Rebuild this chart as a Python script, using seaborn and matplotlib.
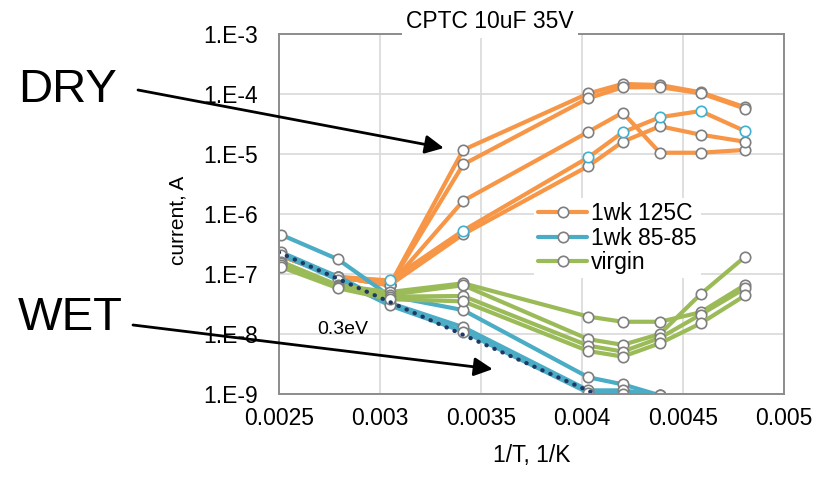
import matplotlib
matplotlib.use('Agg')
import matplotlib.pyplot as plt
import numpy as np
import pandas as pd
import seaborn as sns
from matplotlib.lines import Line2D
from matplotlib.ticker import LogLocator, NullFormatter

# 1/T values of the measurement temperatures
inv_t = [0.002513, 0.002793, 0.003049, 0.003413, 0.004032, 0.004202, 0.004386, 0.004587, 0.004808]

# 1wk 125C (orange) - five parts
dry_a = [2.0e-7, 9.0e-8, 6.5e-8, 1.17e-5, 1.02e-4, 1.47e-4, 1.41e-4, 1.07e-4, 6.0e-5]
dry_b = [2.0e-7, 9.0e-8, 6.5e-8, 6.7e-6, 8.5e-5, 1.29e-4, 1.30e-4, 1.03e-4, 5.7e-5]
dry_c = [2.0e-7, 9.0e-8, 6.5e-8, 1.66e-6, 2.35e-5, 4.9e-5, 1.05e-5, 1.05e-5, 1.17e-5]
dry_d = [2.0e-7, 9.0e-8, 7.8e-8, 5.3e-7, 8.8e-6, 2.3e-5, 4.1e-5, 5.2e-5, 2.4e-5]
dry_e = [2.0e-7, 9.0e-8, 6.5e-8, 4.6e-7, 6.3e-6, 1.6e-5, 2.9e-5, 2.1e-5, 1.6e-5]

# 1wk 85-85 (blue) - first seven temperatures
wet_a = [4.5e-7, 1.76e-7, 4.3e-8, 2.5e-8, 1.9e-9, 1.45e-9, 9.5e-10]
wet_b = [2.3e-7, 9.0e-8, 3.3e-8, 1.3e-8, 1.15e-9, 1.15e-9, 9.5e-10]
wet_c = [2.1e-7, 8.0e-8, 3.0e-8, 1.1e-8, 1.05e-9, 1.0e-9, 9.5e-10]

# virgin (green)
virgin_a = [1.6e-7, 6.5e-8, 5.0e-8, 7.0e-8, 1.95e-8, 1.6e-8, 1.6e-8, 2.3e-8, 6.6e-8]
virgin_b = [1.5e-7, 6.3e-8, 4.5e-8, 6.5e-8, 8.2e-9, 6.6e-9, 1.0e-8, 4.6e-8, 1.95e-7]
virgin_c = [1.4e-7, 6.0e-8, 4.2e-8, 4.3e-8, 6.4e-9, 5.1e-9, 8.6e-9, 2.1e-8, 5.8e-8]
virgin_d = [1.3e-7, 5.8e-8, 3.8e-8, 3.5e-8, 5.2e-9, 4.2e-9, 7.0e-9, 1.5e-8, 4.4e-8]

# 0.3 eV activation fit line
fit_x = [0.0025, 0.00415]
fit_y = [2.3e-7, 7.5e-10]

y_ticks = [1e-9, 1e-8, 1e-7, 1e-6, 1e-5, 1e-4, 1e-3]
y_labels = ['1.E-9', '1.E-8', '1.E-7', '1.E-6', '1.E-5', '1.E-4', '1.E-3']
x_ticks = [0.0025, 0.003, 0.0035, 0.004, 0.0045, 0.005]
x_labels = ['0.0025', '0.003', '0.0035', '0.004', '0.0045', '0.005']

ORANGE = '#F79646'
BLUE = '#4BACC6'
GREEN = '#9BBB59'
CYAN_EDGE = '#3FB0D0'
EDGE = '#7F7F7F'

sns.set_style('white')
plt.rcParams['font.family'] = ['Liberation Sans', 'DejaVu Sans']
plt.rcParams['text.color'] = 'black'
plt.rcParams['xtick.color'] = 'black'
plt.rcParams['ytick.color'] = 'black'

fig = plt.figure(figsize=(8.27, 4.94), dpi=100)
ax = fig.add_axes([0.337, 0.2024, 0.611, 0.7288])
ax.set_yscale('log')

line_kw = dict(lw=3.0, marker='o', markersize=7.5, markerfacecolor='white',
               markeredgewidth=1.2, estimator=None, sort=False, ax=ax)

for ys in [dry_a, dry_b, dry_c, dry_e]:
    sns.lineplot(x=inv_t, y=ys, color=ORANGE, markeredgecolor=EDGE, **line_kw)
sns.lineplot(x=inv_t, y=dry_d, color=ORANGE, markeredgecolor=CYAN_EDGE, **line_kw)

for ys in [wet_a, wet_b, wet_c]:
    sns.lineplot(x=inv_t[:len(ys)], y=ys, color=BLUE, markeredgecolor=EDGE, **line_kw)

for ys in [virgin_a, virgin_b, virgin_c, virgin_d]:
    sns.lineplot(x=inv_t, y=ys, color=GREEN, markeredgecolor=EDGE, **line_kw)

sns.lineplot(x=fit_x, y=fit_y, color='#1F3864', lw=3, linestyle=(0, (0.1, 2.0)),
             dash_capstyle='round', estimator=None, sort=False, ax=ax)

ax.set_xlim(0.0025, 0.005)
ax.set_ylim(1e-9, 1e-3)
ax.set_xticks(x_ticks)
ax.set_xticklabels(x_labels, fontsize=16.5)
ax.set_yticks(y_ticks)
ax.set_yticklabels(y_labels, fontsize=16.5)
ax.yaxis.set_minor_locator(LogLocator(base=10, subs=np.arange(2, 10), numticks=20))
ax.yaxis.set_minor_formatter(NullFormatter())
ax.tick_params(axis='x', length=0, pad=9)
ax.tick_params(axis='y', which='major', direction='in', length=6, color='#8C8C8C', pad=15)
ax.tick_params(axis='y', which='minor', direction='in', length=5, color='#8C8C8C')
ax.grid(True, which='major', color='#D9D9D9', lw=1.2)
ax.set_axisbelow(True)
for s in ax.spines.values():
    s.set_color('#8C8C8C')
    s.set_linewidth(1.4)
ax.set_xlabel('')
ax.set_ylabel('')

fig.text(532 / 827, 1 - 455 / 494, '1/T, 1/K', fontsize=16.5, ha='center', va='center')
fig.text(178 / 827, 1 - 220 / 494, 'current, A', fontsize=15, rotation=90,
         ha='center', va='center')
fig.text(490 / 827, 1 - 22 / 494, 'CPTC 10uF 35V', fontsize=16.5, ha='center', va='center',
         bbox=dict(facecolor='white', edgecolor='none', pad=3))

handles = [Line2D([], [], color=c, lw=3.0, marker='o', markersize=7.5,
                  markerfacecolor='white', markeredgecolor=EDGE, markeredgewidth=1.2)
           for c in [ORANGE, BLUE, GREEN]]
leg = ax.legend(handles, ['1wk 125C', '1wk 85-85', 'virgin'], loc='upper left',
                bbox_to_anchor=(0.505, 0.545), fontsize=16.5, frameon=True,
                facecolor='white', edgecolor='none', framealpha=1, borderpad=0.2,
                borderaxespad=0, handlelength=2.1, handletextpad=0.2, labelspacing=0.05)
leg.set_zorder(10)

ax.text(0.002817, 10 ** (-3 - (329 - 34) / 60), '0.3eV', fontsize=14, ha='center', va='center')

fig.text(18 / 827, 1 - 90 / 494, 'DRY', fontsize=34, ha='left', va='center')
fig.text(18 / 827, 1 - 318 / 494, 'WET', fontsize=34, ha='left', va='center')

arrow = dict(arrowstyle='-|>', color='black', lw=2, mutation_scale=28, shrinkA=0, shrinkB=0)
ax.annotate('', xy=(0.003317, 1.26e-5), xycoords='data',
            xytext=(138, 494 - 90), textcoords='figure pixels',
            arrowprops=arrow, annotation_clip=False)
ax.annotate('', xy=(0.003559, 2.6e-9), xycoords='data',
            xytext=(133, 494 - 325), textcoords='figure pixels',
            arrowprops=arrow, annotation_clip=False)

fig.savefig('out.png', dpi=100)
